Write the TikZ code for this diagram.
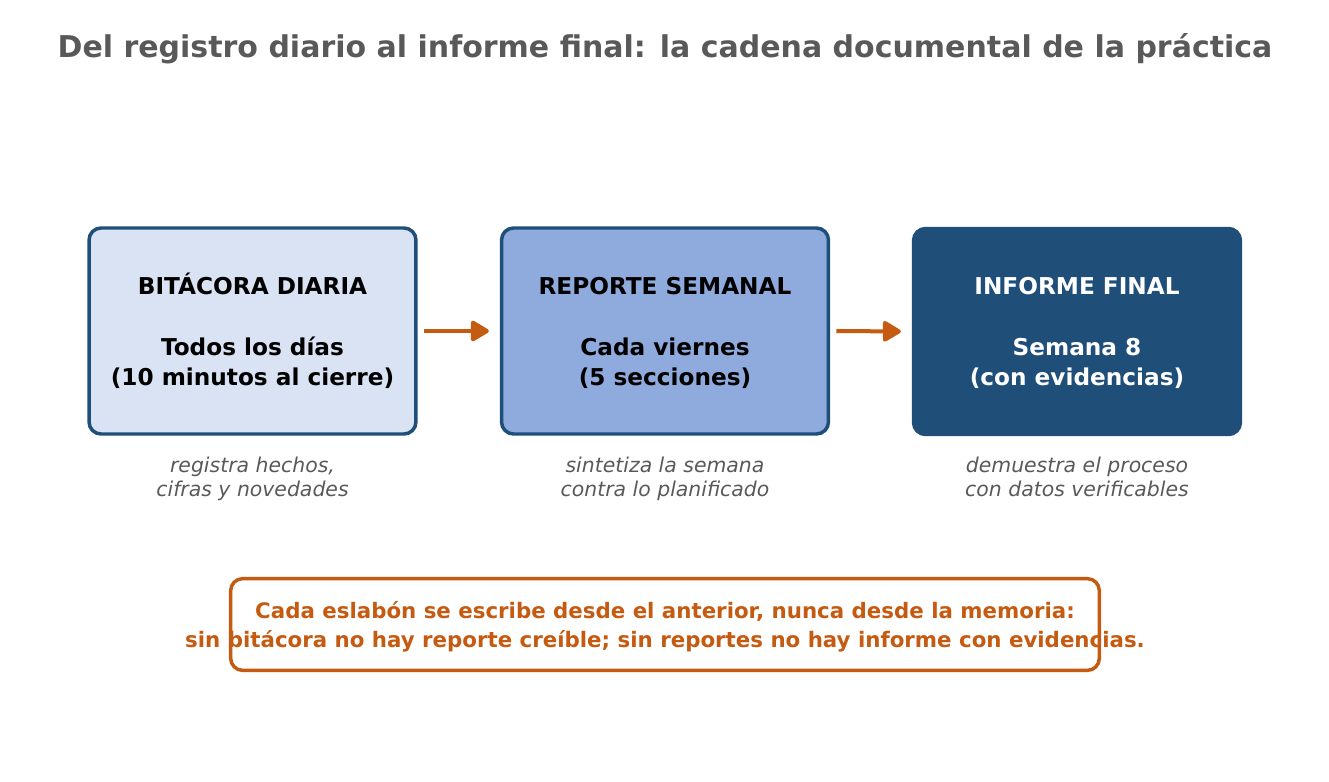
\documentclass[tikz,border=0pt]{standalone}
\usepackage{fontspec}
\setmainfont{DejaVu Sans}
\usetikzlibrary{arrows.meta}
\definecolor{navy}{HTML}{1F4E79}
\definecolor{paleblue}{HTML}{DAE3F3}
\definecolor{midblue}{HTML}{8FAADC}
\definecolor{rust}{HTML}{C55A11}
\definecolor{greytxt}{HTML}{595959}
\tikzset{
  stagebox/.style={draw=navy, line width=2.6pt, rounded corners=9pt,
    minimum width=245.2pt, minimum height=154.5pt, align=center,
    font=\fontsize{17.4}{22.5}\selectfont\bfseries, inner sep=0pt},
  captiontxt/.style={align=center, text=greytxt,
    font=\fontsize{15.3}{16.5}\selectfont\itshape, inner sep=0pt},
  flowarrow/.style={draw=rust, line width=3pt,
    -{Triangle[length=15pt,width=17pt,round]},
    shorten <=4.6pt, shorten >=8.2pt},
}
\begin{document}
\begin{tikzpicture}[x=0.75pt,y=-0.75pt]
\useasboundingbox (0,0) rectangle (1329,782);
\node[text=greytxt, font=\fontsize{22.5}{27}\selectfont\bfseries, inner sep=0pt] (title) at (665,49) {Del registro diario al informe final: la cadena documental de la práctica};

\node[stagebox, fill=paleblue, text=black] (b1) at (252.5,331) {};
\node[stagebox, fill=midblue, text=black] (b2) at (665,331) {};
\node[stagebox, fill=navy, text=white] (b3) at (1077,331.5) {};
\node[stagebox, draw=none, text=black] (t1) at (252.5,333.5) {\strut BITÁCORA DIARIA\\[23.25pt]Todos los días\\(10 minutos al cierre)\strut};
\node[stagebox, draw=none, text=black] (t2) at (665,333.5) {\strut REPORTE SEMANAL\\[23.25pt]Cada viernes\\(5 secciones)\strut};
\node[stagebox, draw=none, text=white] (t3) at (1077,333.5) {\strut INFORME FINAL\\[23.25pt]Semana 8\\(con evidencias)\strut};

\draw[flowarrow] (b1.east) -- (b2.west);
\draw[flowarrow] (b2.east) -- (b3.west);

\node[captiontxt] (c1) at (252.5,480) {\strut registra hechos,\\cifras y novedades\strut};
\node[captiontxt] (c2) at (665,480) {\strut sintetiza la semana\\contra lo planificado\strut};
\node[captiontxt] (c3) at (1077,480) {\strut demuestra el proceso\\con datos verificables\strut};

\node[draw=rust, line width=2.6pt, rounded corners=9pt, fill=white,
  minimum width=651.5pt, minimum height=68.8pt, inner sep=0pt] (note) at (665,624.5) {};
\node[text=rust, align=center, font=\fontsize{16}{21.75}\selectfont\bfseries, inner sep=0pt] (notetxt) at (665,626.5) {Cada eslabón se escribe desde el anterior, nunca desde la memoria:\\sin bitácora no hay reporte creíble; sin reportes no hay informe con evidencias.};
\end{tikzpicture}
\end{document}
